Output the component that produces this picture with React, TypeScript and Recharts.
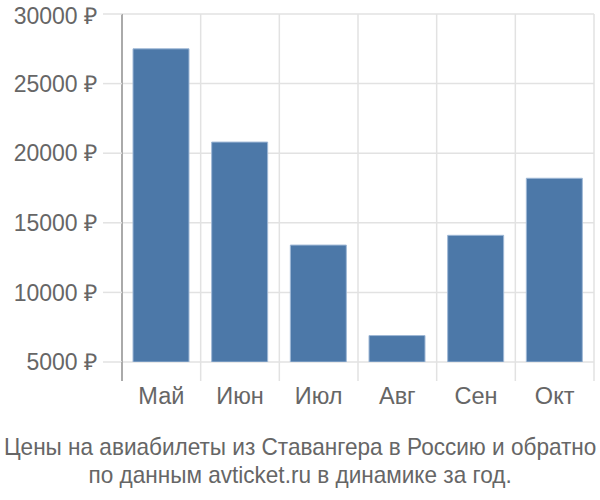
import { BarChart, Bar, XAxis, YAxis, CartesianGrid } from 'recharts';

const months = ['Май', 'Июн', 'Июл', 'Авг', 'Сен', 'Окт'];
const prices = [27500, 20800, 13400, 6900, 14100, 18200];
const yTicks = [5000, 10000, 15000, 20000, 25000, 30000];
const titleLines = [
  'Цены на авиабилеты из Ставангера в Россию и обратно',
  'по данным avticket.ru в динамике за год.',
];

const data = months.map((m, i) => ({ month: m, price: prices[i] }));

const W = 600;
const H = 415;
const AXIS_W = 122;
const M_RIGHT = 6;
const M_TOP = 14;
const band = (W - AXIS_W - M_RIGHT) / months.length;
const TEXT = '#666';
const GRID = '#e2e2e2';
const FONT = "Liberation Sans, Arial, sans-serif";

function MonthTick({ x, y, payload, index }: any) {
  const top = y - 27;
  const left = x - band / 2;
  return (
    <g>
      <line x1={left} y1={top} x2={left} y2={top + 19} stroke={index === 0 ? '#aaa' : GRID} strokeWidth={index === 0 ? 2 : 1.5} />
      {index === months.length - 1 && (
        <line x1={x + band / 2} y1={top} x2={x + band / 2} y2={top + 19} stroke={GRID} strokeWidth={1.5} />
      )}
      <text x={x} y={y} dy={15} textAnchor="middle" fill={TEXT} fontSize={23.5} style={{ fontFamily: FONT }}>
        {payload.value}
      </text>
    </g>
  );
}

export default function App() {
  return (
    <div style={{ position: 'absolute', left: 0, top: 0, width: W, height: 500, background: '#fff', overflow: 'hidden' }}>
      <BarChart width={W} height={H} data={data} margin={{ top: M_TOP, right: M_RIGHT, bottom: 0, left: 0 }}>
        <CartesianGrid
          stroke={GRID}
          strokeWidth={1.5}
          verticalCoordinatesGenerator={({ offset }: any) =>
            months.map((_, i) => offset.left + ((i + 1) * offset.width) / months.length)
          }
        />
        <XAxis
          dataKey="month"
          height={H - M_TOP - 348}
          axisLine={false}
          tickLine={false}
          tickSize={0}
          tickMargin={27}
          interval={0}
          tick={<MonthTick />}
        />
        <YAxis
          width={AXIS_W}
          domain={[5000, 30000]}
          ticks={yTicks}
          allowDataOverflow
          tickFormatter={(v: number) => `${v} ₽`}
          axisLine={{ stroke: '#aaa', strokeWidth: 2 }}
          tickLine={{ stroke: GRID, strokeWidth: 1.5 }}
          tickSize={19}
          tickMargin={6}
          tick={{ fill: TEXT, fontSize: 23, style: { fontFamily: FONT } }}
        />
        <Bar dataKey="price" fill="#4c78a8" stroke="#9fb8d6" strokeWidth={1} barSize={56} isAnimationActive={false} />
      </BarChart>
      <div
        style={{
          position: 'absolute',
          top: 433,
          left: 0,
          width: W,
          color: TEXT,
          fontSize: 24,
          lineHeight: '28px',
          fontFamily: FONT,
        }}
      >
        {titleLines.map((t) => (
          <div key={t} style={{ display: 'flex', justifyContent: 'center' }}>
            <span style={{ flexShrink: 0, whiteSpace: 'nowrap', display: 'inline-block', transform: 'scaleX(0.94)' }}>{t}</span>
          </div>
        ))}
      </div>
    </div>
  );
}
